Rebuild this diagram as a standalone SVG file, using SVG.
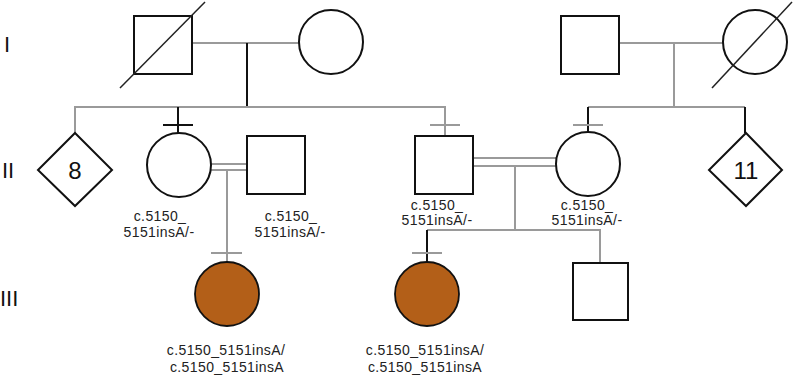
<svg xmlns="http://www.w3.org/2000/svg" width="800" height="375" viewBox="0 0 800 375">
<style>
.n{fill:#fff;stroke:#111;stroke-width:2}
.aff{fill:#b35f18;stroke:#111;stroke-width:1.8}
.g{stroke:#9a9a9a;stroke-width:2;fill:none}
.k{stroke:#111;stroke-width:2;fill:none}
.d{stroke:#222;stroke-width:1.5}
.lb{font-family:"Liberation Sans",Arial,sans-serif;font-size:14px;fill:#222;text-anchor:middle;letter-spacing:0.4px}
.num{font-family:"Liberation Sans",Arial,sans-serif;font-size:24px;fill:#111;text-anchor:middle}
.gen{font-family:"Liberation Sans",Arial,sans-serif;font-size:22px;fill:#111}
</style>
<rect width="800" height="375" fill="#fff"/>
<g id="gen-labels">
<text class="gen" x="4" y="52">I</text>
<text class="gen" x="2" y="178">II</text>
<text class="gen" x="0" y="306">III</text>
</g>
<g id="connectors">
<line class="g" x1="192" y1="43" x2="299" y2="43"/>
<line class="k" x1="247" y1="43" x2="247" y2="107"/>
<polyline class="g" points="75,133 75,107 445,107 445,136"/>
<line class="k" x1="178" y1="107" x2="178" y2="133"/>
<line class="k" x1="163" y1="125" x2="193" y2="125"/>
<line class="g" x1="430" y1="125" x2="460" y2="125"/>
<line class="g" x1="619" y1="43" x2="723" y2="43"/>
<line class="g" x1="674" y1="43" x2="674" y2="107"/>
<line class="g" x1="588" y1="107" x2="745" y2="107"/>
<line class="k" x1="588" y1="107" x2="588" y2="133"/>
<line class="k" x1="745" y1="107" x2="745" y2="133"/>
<line class="g" x1="573" y1="125" x2="603" y2="125"/>
<line class="g" x1="211" y1="164" x2="247" y2="164"/>
<line class="g" x1="211" y1="170" x2="247" y2="170"/>
<line class="g" x1="227" y1="170" x2="227" y2="263"/>
<line class="g" x1="211" y1="253" x2="242" y2="253"/>
<line class="g" x1="473" y1="158" x2="557" y2="158"/>
<line class="g" x1="473" y1="166" x2="557" y2="166"/>
<line class="g" x1="515" y1="166" x2="515" y2="230"/>
<polyline class="g" points="427,230 600,230 600,263"/>
<line class="k" x1="427" y1="230" x2="427" y2="263"/>
<line class="g" x1="412" y1="253" x2="442" y2="253"/>
</g>
<g id="I-1">
<rect class="n" x="134" y="16" width="58" height="58"/>
<line class="d" x1="120" y1="88" x2="205" y2="2"/>
</g>
<g id="I-2"><circle class="n" cx="331" cy="42" r="32"/></g>
<g id="I-3"><rect class="n" x="561" y="16" width="58" height="58"/></g>
<g id="I-4">
<circle class="n" cx="755" cy="42" r="32"/>
<line class="d" x1="712" y1="88" x2="792" y2="2"/>
</g>
<g id="II-1">
<polygon class="n" points="75,133 112,170 75,206 38,170"/>
<text class="num" x="75" y="179">8</text>
</g>
<g id="II-2">
<circle class="n" cx="179" cy="165" r="32"/>
<text class="lb" x="160" y="221">c.5150_</text>
<text class="lb" x="159" y="237">5151insA/-</text>
</g>
<g id="II-3">
<rect class="n" x="247" y="136" width="58" height="58"/>
<text class="lb" x="291" y="221">c.5150_</text>
<text class="lb" x="290" y="237">5151insA/-</text>
</g>
<g id="II-4">
<rect class="n" x="415" y="136" width="58" height="58"/>
<text class="lb" x="437" y="210">c.5150_</text>
<text class="lb" x="437" y="225">5151insA/-</text>
</g>
<g id="II-5">
<circle class="n" cx="588" cy="164" r="32"/>
<text class="lb" x="587" y="210">c.5150_</text>
<text class="lb" x="587" y="225">5151insA/-</text>
</g>
<g id="II-6">
<polygon class="n" points="746,133 782,170 746,206 709,170"/>
<text class="num" x="746" y="179">11</text>
</g>
<g id="III-1">
<circle class="aff" cx="227" cy="294" r="32"/>
<text class="lb" x="226" y="355">c.5150_5151insA/</text>
<text class="lb" x="227" y="372">c.5150_5151insA</text>
</g>
<g id="III-2">
<circle class="aff" cx="427" cy="294" r="32"/>
<text class="lb" x="425" y="355">c.5150_5151insA/</text>
<text class="lb" x="425" y="372">c.5150_5151insA</text>
</g>
<g id="III-3"><rect class="n" x="573" y="263" width="55" height="57"/></g>
</svg>
